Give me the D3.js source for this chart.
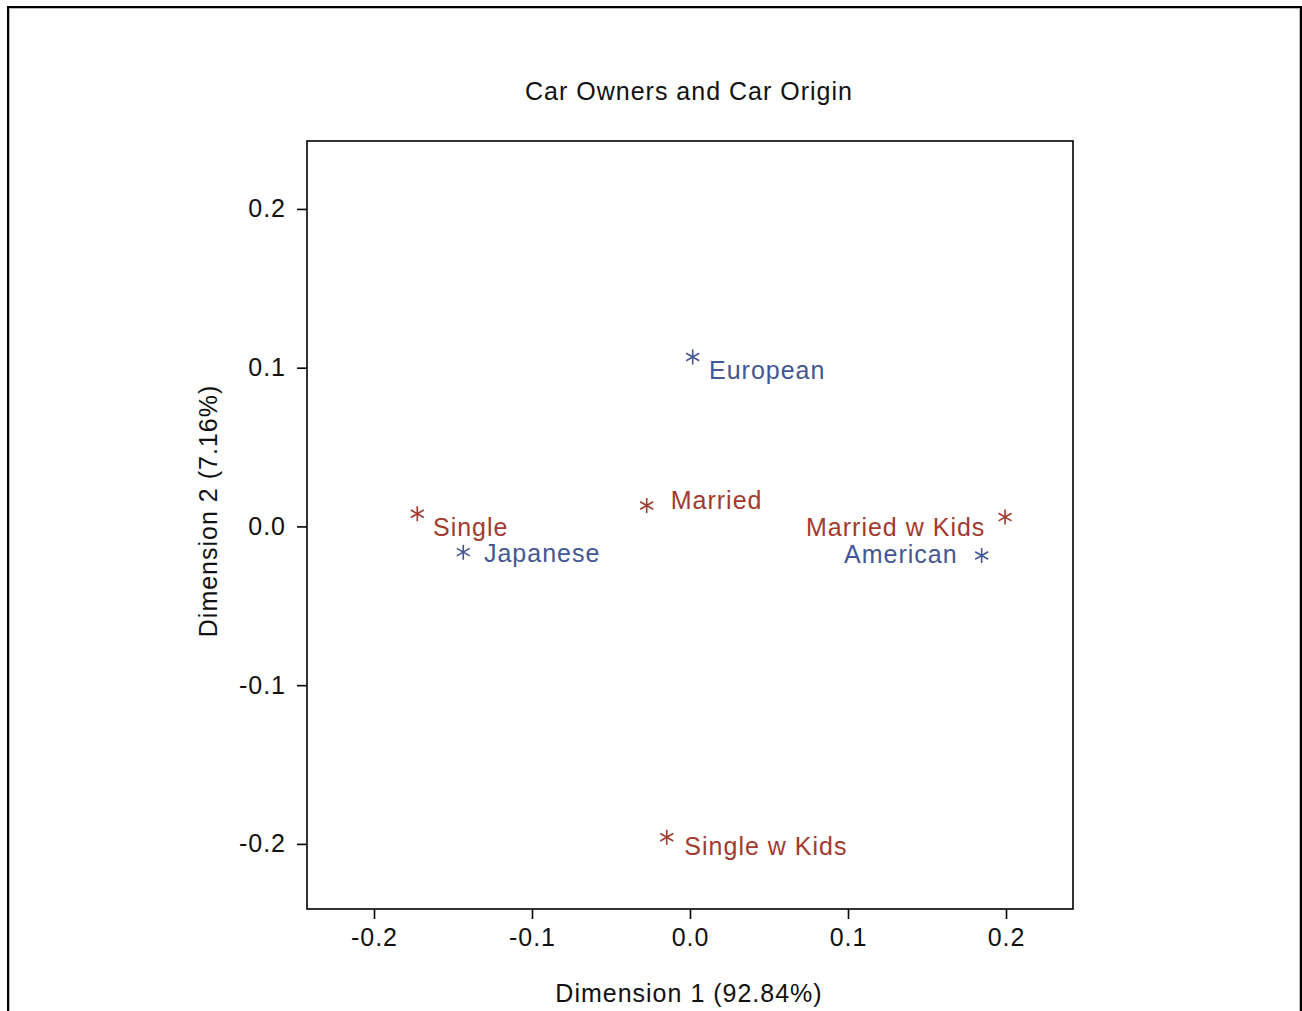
<!DOCTYPE html>
<html>
<head>
<meta charset="utf-8">
<script src="https://cdn.jsdelivr.net/npm/d3@7"></script>
<style>
  html, body { margin: 0; padding: 0; background: #fff; }
  svg { display: block; }
  text { font-family: "Liberation Sans", Arial, sans-serif; letter-spacing: 1px; }
</style>
</head>
<body>
<svg id="chart" width="1302" height="1011"></svg>
<script>
// ---- data ----
const categories = ["Single", "Married", "Single w Kids", "Married w Kids", "Japanese", "European", "American"];
const dim1 = [-0.1726, -0.0274, -0.0147, 0.1994, -0.1435, 0.0017, 0.1846];
const dim2 = [0.0080, 0.0132, -0.1958, 0.0059, -0.0162, 0.1067, -0.0183];
const groups = ["Owner", "Owner", "Owner", "Owner", "Origin", "Origin", "Origin"];
const xTicks = [-0.2, -0.1, 0.0, 0.1, 0.2];
const yTicks = [-0.2, -0.1, 0.0, 0.1, 0.2];
const titleText = "Car Owners and Car Origin";
const xLabel = "Dimension 1 (92.84%)";
const yLabel = "Dimension 2 (7.16%)";

// label placement (layout, not data)
const labelAnchor = ["start", "start", "start", "end", "start", "start", "end"];
const labelDx = [15.7, 24, 17.6, -19.7, 20.7, 16.3, -24];
const labelDy = [22.4, 4, 17.6, 19, 10.3, 22.3, 7.7];

const colors = { Owner: "#A23A2E", Origin: "#445694" };

const svg = d3.select("#chart");

// outer frame
svg.append("rect").attr("x", 8).attr("y", 7).attr("width", 1293).attr("height", 1030)
  .attr("fill", "none").attr("stroke", "#000").attr("stroke-width", 2);
svg.append("rect").attr("x", 9.5).attr("y", 8.5).attr("width", 1290).attr("height", 1030)
  .attr("fill", "none").attr("stroke", "#bbb").attr("stroke-width", 1);

const L = 307, R = 1073, T = 141, B = 909;
const x = d3.scaleLinear().domain([-0.2424, 0.2424]).range([L, R]);
const y = d3.scaleLinear().domain([-0.2410, 0.2428]).range([B, T]);

// plot frame
svg.append("rect").attr("x", L).attr("y", T).attr("width", R - L).attr("height", B - T)
  .attr("fill", "none").attr("stroke", "#000").attr("stroke-width", 1.6);

const fmt = v => d3.format(".1f")(v).replace("\u2212", "-");

// x axis
const xAxis = svg.append("g").attr("transform", `translate(0,${B})`)
  .call(d3.axisBottom(x).tickValues(xTicks).tickFormat(fmt).tickSize(10).tickPadding(9));
xAxis.select(".domain").remove();
xAxis.selectAll("line").attr("stroke", "#000").attr("stroke-width", 1.6);
xAxis.selectAll("text").attr("font-size", 25).attr("fill", "#111")
  .attr("font-family", "'Liberation Sans', Arial, sans-serif");

// y axis
const yAxis = svg.append("g").attr("transform", `translate(${L},0)`)
  .call(d3.axisLeft(y).tickValues(yTicks).tickFormat(fmt).tickSize(10).tickPadding(11));
yAxis.select(".domain").remove();
yAxis.selectAll("line").attr("stroke", "#000").attr("stroke-width", 1.6);
yAxis.selectAll("text").attr("font-size", 25).attr("fill", "#111")
  .attr("font-family", "'Liberation Sans', Arial, sans-serif");

// title & axis labels
svg.append("text").attr("x", 689).attr("y", 100).attr("text-anchor", "middle")
  .attr("font-size", 25).attr("fill", "#111").text(titleText);
svg.append("text").attr("x", 689).attr("y", 1002).attr("text-anchor", "middle")
  .attr("font-size", 25).attr("fill", "#111").text(xLabel);
svg.append("text").attr("transform", "translate(217,511) rotate(-90)").attr("text-anchor", "middle")
  .attr("font-size", 25).attr("fill", "#111").text(yLabel);

// points
const sym = d3.symbol().type(d3.symbolAsterisk).size(159);
const pts = categories.map((c, i) => ({ c, i, x: dim1[i], y: dim2[i], g: groups[i] }));
svg.append("g").selectAll("path").data(pts).join("path")
  .attr("d", sym)
  .attr("transform", d => `translate(${x(d.x)},${y(d.y)})`)
  .attr("fill", "none")
  .attr("stroke", d => colors[d.g])
  .attr("stroke-width", 1.6);

svg.append("g").selectAll("text").data(pts).join("text")
  .attr("x", d => x(d.x) + labelDx[d.i])
  .attr("y", d => y(d.y) + labelDy[d.i])
  .attr("text-anchor", d => labelAnchor[d.i])
  .attr("font-size", 25)
  .attr("fill", d => colors[d.g])
  .text(d => d.c);
</script>
</body>
</html>
